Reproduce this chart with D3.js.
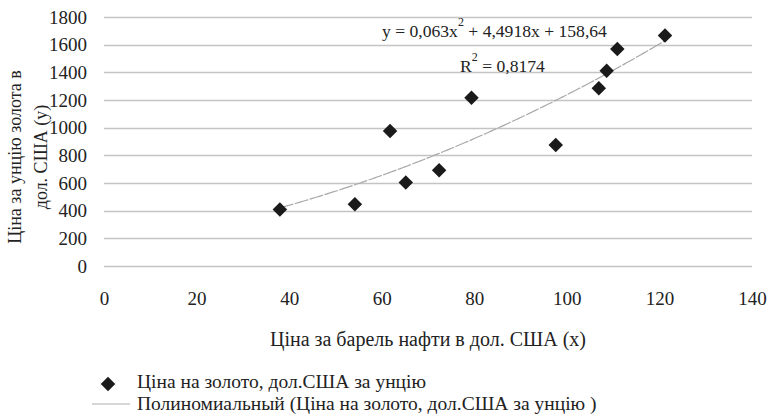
<!DOCTYPE html>
<html>
<head>
<meta charset="utf-8">
<script src="https://cdn.jsdelivr.net/npm/d3@7"></script>
<style>
  body { margin: 0; background: #fff; }
  svg text { font-family: "Liberation Serif", "Times New Roman", serif; fill: #222; }
</style>
</head>
<body>
<svg id="chart"></svg>
<script>
// oil price per barrel (x) and gold price per ounce (y), USD
const oilPrice  = [38.0, 54.2, 61.8, 65.2, 72.4, 79.4, 97.6, 106.9, 108.6, 110.9, 121.2];
const goldPrice = [408, 447, 976, 604, 693, 1217, 875, 1285, 1411, 1568, 1667];
const xTicks = [0, 20, 40, 60, 80, 100, 120, 140];
const yTicks = [0, 200, 400, 600, 800, 1000, 1200, 1400, 1600, 1800];
// trendline coefficients shown on the chart: a*x^2 + b*x + c
const trendCoef = [0.063, 4.4918, 158.64];
const seriesName = 'Ціна на золото, дол.США за унцію';
const trendName = 'Полиномиальный (Ціна на золото, дол.США за унцію )';

const width = 768, height = 417;
const margin = {top: 17, right: 16, bottom: 151, left: 104};

const svg = d3.select('#chart')
    .attr('width', width)
    .attr('height', height);

const xScale = d3.scaleLinear().domain([0, 140]).range([margin.left, width - margin.right]);
const yScale = d3.scaleLinear().domain([0, 1800]).range([height - margin.bottom, margin.top]);

// gridlines
svg.append('g')
  .selectAll('line')
  .data(yTicks)
  .join('line')
    .attr('x1', xScale(0))
    .attr('x2', xScale(140))
    .attr('y1', d => Math.round(yScale(d)) + 0.5)
    .attr('y2', d => Math.round(yScale(d)) + 0.5)
    .attr('stroke', '#c4c4c4')
    .attr('stroke-width', 1.5);

// axes (labels only, no domain lines)
const yAxis = d3.axisLeft(yScale).tickValues(yTicks).tickFormat(d => d).tickSize(0).tickPadding(17);
const yAxisG = svg.append('g')
    .attr('transform', `translate(${margin.left},0)`)
    .call(yAxis);

const xAxis = d3.axisBottom(xScale).tickValues(xTicks).tickFormat(d => d).tickSize(0).tickPadding(26);
const xAxisG = svg.append('g')
    .attr('transform', `translate(0,${height - margin.bottom})`)
    .call(xAxis);

[yAxisG, xAxisG].forEach(g => {
  g.select('.domain').remove();
  g.selectAll('text')
    .style('font-family', '"Liberation Serif", serif')
    .style('font-size', '19px')
    .attr('fill', '#222');
});

// trendline
const [a, b, c] = trendCoef;
const xExt = d3.extent(oilPrice);
const trendX = d3.range(xExt[0], xExt[1], 0.5).concat([xExt[1]]);
const line = d3.line()
    .x(d => xScale(d))
    .y(d => yScale(a * d * d + b * d + c));
svg.append('path')
    .datum(trendX)
    .attr('d', line)
    .attr('fill', 'none')
    .attr('stroke', '#a8a8a8')
    .attr('stroke-width', 1.2)
    .attr('stroke-dasharray', '14,1.5');

// points
const diamond = d3.symbol().type(d3.symbolSquare).size(105);
svg.append('g')
  .selectAll('path')
  .data(oilPrice.map((x, i) => ({x, y: goldPrice[i]})))
  .join('path')
    .attr('d', diamond)
    .attr('transform', d => `translate(${xScale(d.x)},${yScale(d.y)}) rotate(45)`)
    .attr('fill', '#1a1a1a');

// equation
const eq = svg.append('text')
    .attr('x', 382)
    .attr('y', 37)
    .style('font-size', '17.6px');
eq.append('tspan').text('y = 0,063x');
eq.append('tspan').attr('dy', -11).style('font-size', '12px').text('2');
eq.append('tspan').attr('dy', 11).text(' + 4,4918x + 158,64');

const r2 = svg.append('text')
    .attr('x', 460)
    .attr('y', 72)
    .style('font-size', '17.6px');
r2.append('tspan').text('R');
r2.append('tspan').attr('dy', -11).style('font-size', '12px').text('2');
r2.append('tspan').attr('dy', 11).text(' = 0,8174');

// axis titles
svg.append('text')
    .attr('x', xScale(70))
    .attr('y', 346)
    .attr('text-anchor', 'middle')
    .style('font-size', '20px')
    .text('Ціна за барель нафти в дол. США (х)');

const yTitle = svg.append('text')
    .attr('transform', 'translate(21,157) rotate(-90)')
    .attr('text-anchor', 'middle')
    .style('font-size', '18px');
yTitle.append('tspan').attr('x', 0).attr('y', 0).text('Ціна за унцію золота в');
yTitle.append('tspan').attr('x', 0).attr('y', 26).text('дол. США (у)');

// legend
const legend = svg.append('g');
legend.append('path')
    .attr('d', diamond)
    .attr('transform', 'translate(108,384) rotate(45)')
    .attr('fill', '#1a1a1a');
legend.append('text')
    .attr('x', 137)
    .attr('y', 388)
    .style('font-size', '19.5px')
    .text(seriesName);
legend.append('line')
    .attr('x1', 92).attr('x2', 130)
    .attr('y1', 404).attr('y2', 404)
    .attr('stroke', '#c8c8c8')
    .attr('stroke-width', 1.5);
legend.append('text')
    .attr('x', 137)
    .attr('y', 410)
    .style('font-size', '19.5px')
    .text(trendName);
</script>
</body>
</html>
